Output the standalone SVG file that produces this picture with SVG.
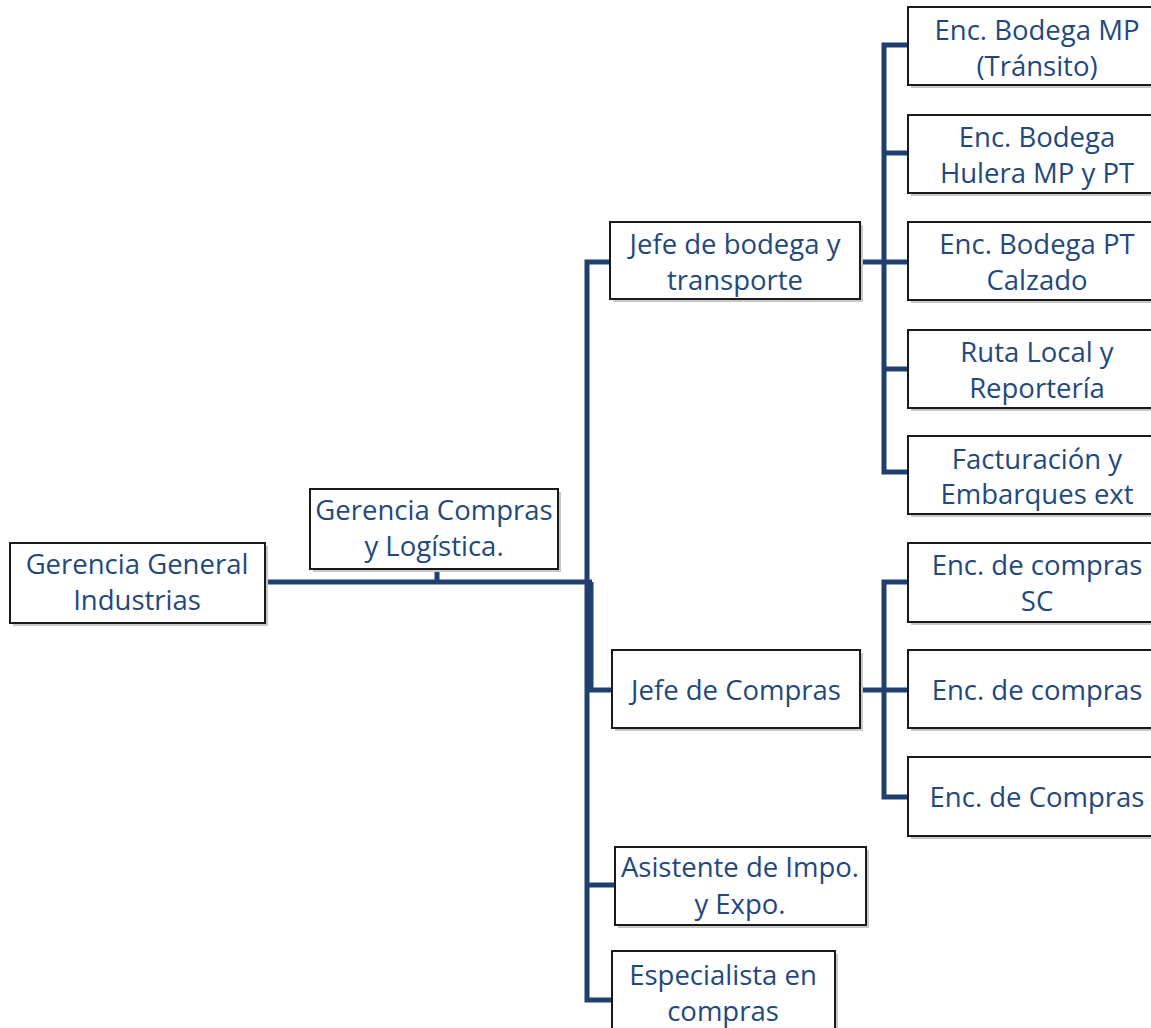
<svg xmlns="http://www.w3.org/2000/svg" width="1151" height="1028" viewBox="0 0 1151 1028">
<style>
.box{fill:#fff;stroke:#1a1a1a;stroke-width:2}
.sh{fill:#c8c8c8}
.t{font-family:"Open Sans","Noto Sans",sans-serif;font-size:27.5px;fill:#1F497D;text-anchor:middle}
.c{stroke:#1F3F6E;stroke-width:5;fill:none;stroke-linejoin:miter}
</style>
<rect width="1151" height="1028" fill="#fff"/>
<g id="connectors">
<path class="c" d="M265 582H592M437 569V582"/>
<path class="c" d="M610 262H587V1000H612M587 885H615M591 582V690H612"/>
<path class="c" d="M860 262H908M908 45H884V472H908M884 153H908M884 369H908"/>
<path class="c" d="M860 690H908M908 582H884V797H908"/>
</g>
<g id="gg"><rect class="sh" x="13" y="546" width="255" height="80"/><rect class="box" x="10" y="543" width="255" height="80"/><text class="t" x="137" y="574">Gerencia General</text><text class="t" x="137" y="610">Industrias</text></g>
<g id="gcl"><rect class="sh" x="313" y="492" width="248" height="80"/><rect class="box" x="310" y="489" width="248" height="80"/><text class="t" x="434" y="520">Gerencia Compras</text><text class="t" x="434" y="556">y Logística.</text></g>
<g id="jbt"><rect class="sh" x="613" y="225" width="250" height="77"/><rect class="box" x="610" y="222" width="250" height="77"/><text class="t" x="735" y="254">Jefe de bodega y</text><text class="t" x="735" y="290">transporte</text></g>
<g id="jc"><rect class="sh" x="615" y="653" width="248" height="78"/><rect class="box" x="612" y="650" width="248" height="78"/><text class="t" x="736" y="700">Jefe de Compras</text></g>
<g id="asis"><rect class="sh" x="618" y="850" width="251" height="78"/><rect class="box" x="615" y="847" width="251" height="78"/><text class="t" x="740" y="877">Asistente de Impo.</text><text class="t" x="740" y="914">y Expo.</text></g>
<g id="esp"><rect class="sh" x="615" y="954" width="223" height="80"/><rect class="box" x="612" y="951" width="223" height="80"/><text class="t" x="723" y="985">Especialista en</text><text class="t" x="723" y="1021">compras</text></g>
<g id="e1"><rect class="sh" x="911" y="10" width="250" height="78"/><rect class="box" x="908" y="7" width="250" height="78"/><text class="t" x="1037" y="40">Enc. Bodega MP</text><text class="t" x="1037" y="76">(Tránsito)</text></g>
<g id="e2"><rect class="sh" x="911" y="118" width="250" height="78"/><rect class="box" x="908" y="115" width="250" height="78"/><text class="t" x="1037" y="147">Enc. Bodega</text><text class="t" x="1037" y="183">Hulera MP y PT</text></g>
<g id="e3"><rect class="sh" x="911" y="225" width="250" height="78"/><rect class="box" x="908" y="222" width="250" height="78"/><text class="t" x="1037" y="254">Enc. Bodega PT</text><text class="t" x="1037" y="290">Calzado</text></g>
<g id="e4"><rect class="sh" x="911" y="333" width="250" height="78"/><rect class="box" x="908" y="330" width="250" height="78"/><text class="t" x="1037" y="362">Ruta Local y</text><text class="t" x="1037" y="398">Reportería</text></g>
<g id="e5"><rect class="sh" x="911" y="439" width="250" height="78"/><rect class="box" x="908" y="436" width="250" height="78"/><text class="t" x="1037" y="469">Facturación y</text><text class="t" x="1037" y="504">Embarques ext</text></g>
<g id="e6"><rect class="sh" x="911" y="546" width="250" height="79"/><rect class="box" x="908" y="543" width="250" height="79"/><text class="t" x="1037" y="575">Enc. de compras</text><text class="t" x="1037" y="611">SC</text></g>
<g id="e7"><rect class="sh" x="911" y="653" width="250" height="78"/><rect class="box" x="908" y="650" width="250" height="78"/><text class="t" x="1037" y="700">Enc. de compras</text></g>
<g id="e8"><rect class="sh" x="911" y="760" width="250" height="79"/><rect class="box" x="908" y="757" width="250" height="79"/><text class="t" x="1037" y="807">Enc. de Compras</text></g>
</svg>
